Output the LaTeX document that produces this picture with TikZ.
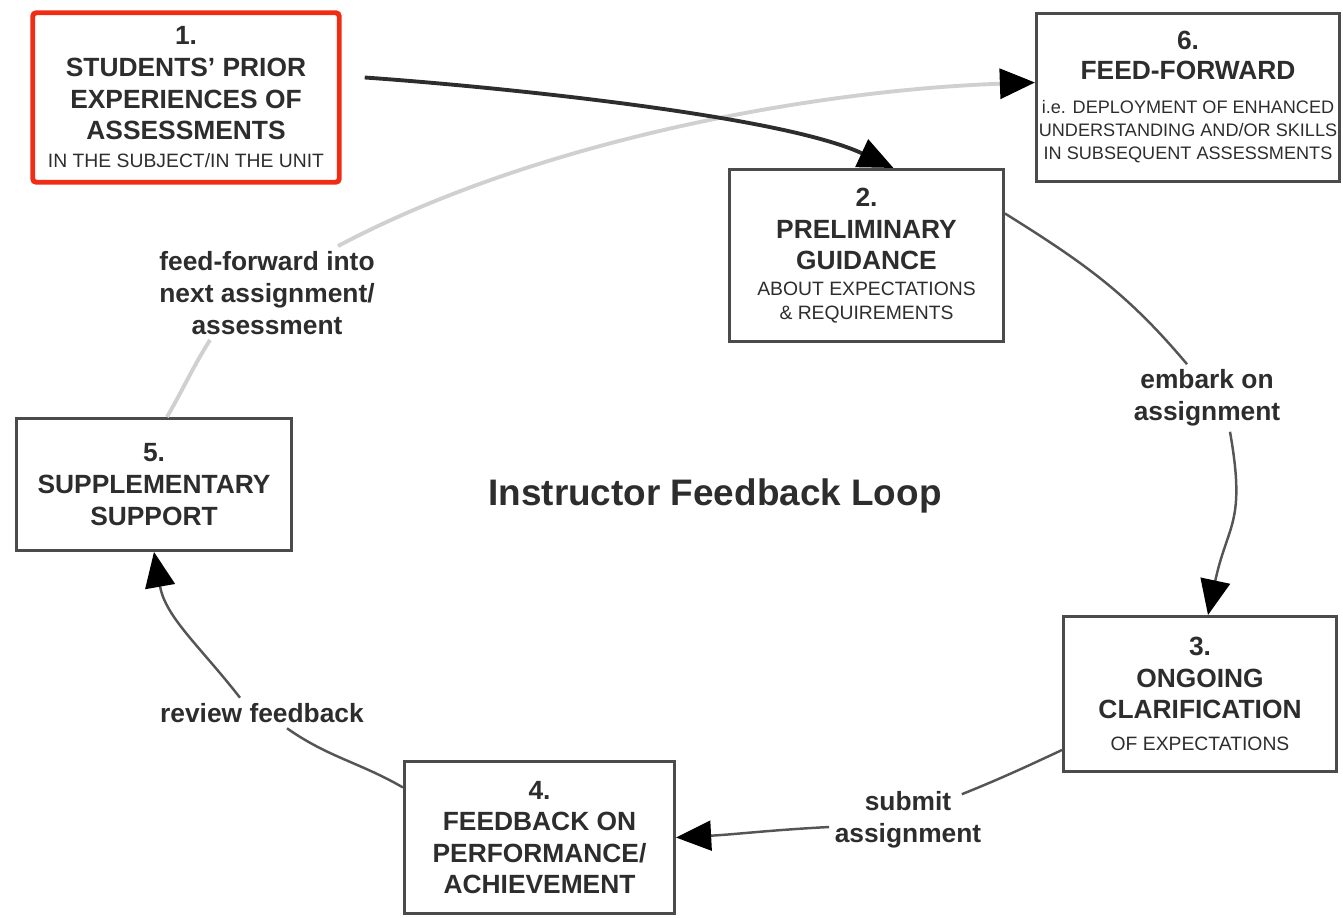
\documentclass[tikz,border=0pt]{standalone}
\usepackage{fontspec}
\setmainfont{Liberation Sans}
\usetikzlibrary{arrows.meta}

\definecolor{boxred}{RGB}{240,45,20}
\definecolor{ink}{RGB}{45,45,45}
\definecolor{frame}{RGB}{75,75,75}
\definecolor{flowgray}{RGB}{85,85,85}
\definecolor{ffgray}{RGB}{208,208,208}

\newcommand{\subline}[1]{{\mdseries\fontsize{11}{13.5}\selectfont #1}}
\newcommand{\tinyline}[1]{{\mdseries\fontsize{10.3}{13}\selectfont #1}}

\begin{document}
\begin{tikzpicture}[x=0.2mm,y=0.2mm,
		stage/.style={rectangle,draw=frame,line width=1.7pt,inner sep=0pt,align=center,
			text=ink,font=\bfseries\fontsize{15}{18}\selectfont},
		red stage/.style={stage,draw=boxred,line width=2.8pt,rounded corners=2pt},
		loop label/.style={inner sep=3pt,align=center,text=ink,
			font=\bfseries\fontsize{15}{18}\selectfont},
		flow/.style={draw=flowgray,line width=1.4pt,
			-{Triangle[length=20pt,width=17pt,color=black]}}]
		
		\useasboundingbox (0,0) rectangle (1343,-918);
		
		% the six stages
		\node[red stage,minimum width=61.3mm,minimum height=33.9mm] (b1) at (186,-97.5)
			{1.\\ STUDENTS’ PRIOR\\ EXPERIENCES OF\\ ASSESSMENTS\\[-2pt] \subline{IN THE SUBJECT/IN THE UNIT}};
		\node[stage,minimum width=54.8mm,minimum height=34.4mm] (b2) at (866.5,-255.5)
			{2.\\ PRELIMINARY\\ GUIDANCE\\[-3.3pt] \subline{ABOUT EXPECTATIONS}\\[-4.4pt] \subline{\& REQUIREMENTS}};
		\node[stage,minimum width=54.6mm,minimum height=31mm] (b3) at (1200,-694)
			{3.\\ ONGOING\\ CLARIFICATION\\ \subline{OF EXPECTATIONS}};
		\node[stage,minimum width=54mm,minimum height=30.4mm] (b4) at (539.5,-837.5)
			{4.\\ FEEDBACK ON\\ PERFORMANCE/\\ ACHIEVEMENT};
		\node[stage,minimum width=55mm,minimum height=26.4mm] (b5) at (154,-484.5)
			{5.\\ SUPPLEMENTARY\\ SUPPORT};
		\node[stage,minimum width=60.6mm,minimum height=33.6mm] (b6) at (1188,-97.5)
			{6.\\[-1pt] FEED-FORWARD\\[1pt] \tinyline{i.e. DEPLOYMENT OF ENHANCED}\\[-4.7pt]
			\tinyline{UNDERSTANDING AND/OR SKILLS}\\[-4.7pt] \tinyline{IN SUBSEQUENT ASSESSMENTS}};
		
		% labels on the loop
		\node[loop label] (ffl) at (267,-293) {feed-forward into\\ next assignment/\\ assessment};
		\node[loop label] (eml) at (1207,-398) {embark on\\ assignment};
		\node[loop label] (sul) at (908,-820) {submit\\ assignment};
		\node[loop label] (rvl) at (262,-713) {review feedback};
		
		\node[text=ink,font=\bfseries\fontsize{21}{25}\selectfont] (title) at (715,-496) {Instructor Feedback Loop};
		
		% connectors
		\draw[flow,draw=ffgray,line width=2.2pt] ([shift={(13,0)}]b5.north)
			to[out=60,in=-122] ([shift={(-57,0)}]ffl.south)
			([shift={(71,0)}]ffl.north) to[out=28,in=182,looseness=0.8] ([shift={(0,15)}]b6.west);
		\draw[flow,draw=ink,line width=2.2pt] ([shift={(23,20)}]b1.east)
			to[out=-4,in=155,looseness=0.6] ([shift={(27,0)}]b2.north);
		\draw[flow] ([shift={(0,42)}]b2.east) to[out=-32,in=130] ([shift={(-20,0)}]eml.north)
			([shift={(23,0)}]eml.south) to[out=-80,in=78,looseness=1.3] ([shift={(8,0)}]b3.north);
		\draw[flow] ([shift={(0,-56)}]b3.west) to[out=205,in=22] ([shift={(-25,-8)}]sul.north east)
			([shift={(0,-7)}]sul.west) to[out=183,in=3] (b4.east);
		\draw[flow] ([shift={(0,50)}]b4.west) to[out=150,in=-35] ([shift={(25,0)}]rvl.south)
			([shift={(-22,0)}]rvl.north) to[out=128,in=-80] (b5.south);
	\end{tikzpicture}
\end{document}
